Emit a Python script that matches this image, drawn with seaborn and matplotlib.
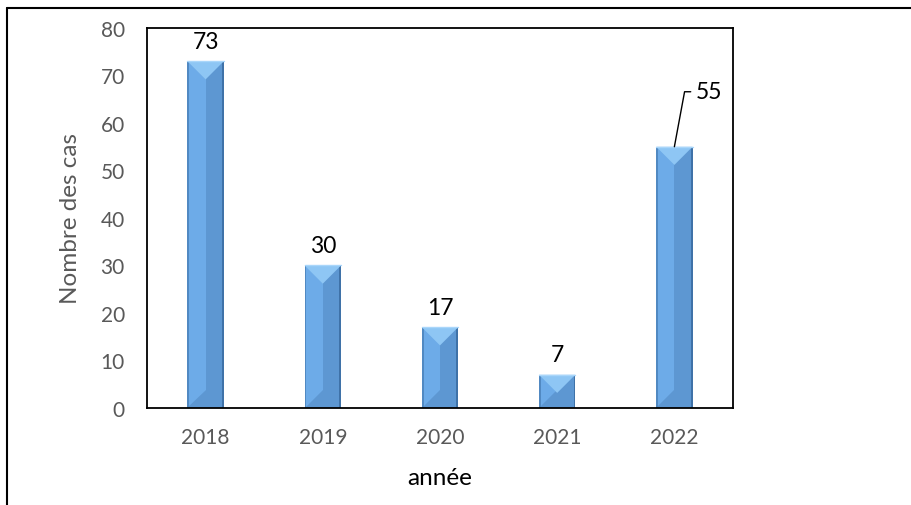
import matplotlib
matplotlib.use("Agg")
import matplotlib.pyplot as plt
import seaborn as sns
import pandas as pd
from matplotlib.patches import Polygon, Rectangle
from matplotlib.lines import Line2D

years = ["2018", "2019", "2020", "2021", "2022"]
cases = [73, 30, 17, 7, 55]
y_ticks = [0, 10, 20, 30, 40, 50, 60, 70, 80]
x_title = "année"
y_title = "Nombre des cas"

sns.set_theme(style="white")
plt.rcParams["font.family"] = ["Lato", "DejaVu Sans"]

df = pd.DataFrame({"year": years, "cases": cases})

fig = plt.figure(figsize=(9.12, 5.06), dpi=100)
ax = fig.add_axes([0.1612, 0.1917, 0.8037 - 0.1612, 0.9427 - 0.1917])

sns.barplot(data=df, x="year", y="cases", color="#6DABE8", width=0.31,
            saturation=1, ax=ax, zorder=2)

ax.set_ylim(0, 80)
ax.set_xlim(-0.5, 4.5)
ax.set_yticks(y_ticks)

# bevel effect derived from each bar patch
fig.canvas.draw()
bars = list(ax.patches)
for p in bars:
    x0, w, h = p.get_x(), p.get_width(), p.get_height()
    p.set_edgecolor("none")
    xc = x0 + w / 2
    px0 = ax.transData.transform((x0, 0))
    px1 = ax.transData.transform((x0 + w, 0))
    half_px = (px1[0] - px0[0]) / 2
    ydata_per_px = 80 / ax.get_window_extent().height
    d = half_px * ydata_per_px
    ax.add_patch(Rectangle((xc, 0), w / 2, h, facecolor="#5D97D2",
                           edgecolor="none", zorder=2.1))
    ax.add_patch(Polygon([(x0, 0), (xc, 0), (xc, min(d, h))],
                         closed=True, facecolor="#5D97D2", edgecolor="none", zorder=2.15))
    ax.add_patch(Rectangle((x0, 0), w * 0.05, h, facecolor="#5189C2",
                           edgecolor="none", zorder=2.2))
    ax.add_patch(Rectangle((x0 + w * 0.95, 0), w * 0.05, h, facecolor="#3F72A8",
                           edgecolor="none", zorder=2.2))
    ax.add_patch(Polygon([(x0, h), (x0 + w, h), (xc, h - min(d, h))],
                         closed=True, facecolor="#8EC6F4", edgecolor="none", zorder=2.3))
    ax.add_line(Line2D([x0, x0 + w], [h, h], color="#A9D6FA", lw=1, zorder=2.4))

# value labels
for i, (yr, v) in enumerate(zip(years, cases)):
    if i == len(years) - 1:
        ax.annotate(str(v), xy=(i, v), xytext=(21, 55), textcoords="offset pixels",
                    ha="left", va="center", fontsize=16.5, color="black",
                    arrowprops=dict(arrowstyle="-", color="black", lw=1,
                                    connectionstyle="angle,angleA=0,angleB=79.5,rad=0",
                                    relpos=(0, 0.5), shrinkA=1, shrinkB=0),
                    zorder=5)
    else:
        ax.annotate(str(v), xy=(i, v), xytext=(0, 7), textcoords="offset points",
                    ha="center", va="bottom", fontsize=16.5, color="black", zorder=5)

for s in ax.spines.values():
    s.set_visible(True)
    s.set_color("black")
    s.set_linewidth(1.3)

ax.tick_params(axis="both", length=0, labelsize=15, colors="#595959")
ax.tick_params(axis="y", pad=16)
ax.tick_params(axis="x", pad=14)
ax.set_xlabel(x_title, fontsize=17.5, color="black", labelpad=14)
ax.set_ylabel(y_title, fontsize=17.5, color="#595959", labelpad=14)
ax.grid(False)

# outer chart frame (top and left sides visible)
fig.add_artist(Line2D([7 / 912, 1.0], [1 - 9 / 506, 1 - 9 / 506],
                      transform=fig.transFigure, color="black", lw=1.5))
fig.add_artist(Line2D([7 / 912, 7 / 912], [0, 1 - 9 / 506],
                      transform=fig.transFigure, color="black", lw=1.5))

fig.savefig("out.png", dpi=100)
